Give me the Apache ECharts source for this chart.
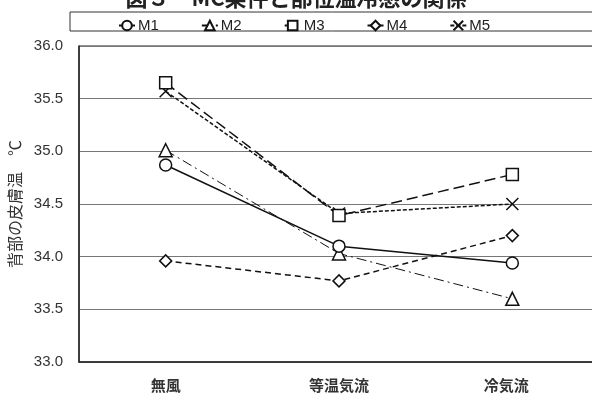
<!DOCTYPE html>
<html><head><meta charset="utf-8">
<script src="https://cdn.jsdelivr.net/npm/echarts@6/dist/echarts.min.js"></script>
<style>html,body{margin:0;padding:0;background:#fff}#c{width:592px;height:394px}</style>
</head><body><div id="c"></div>
<script>
const categories = ['無風', '等温気流', '冷気流'];
const seriesNames = ['M1', 'M2', 'M3', 'M4', 'M5'];
const M1 = [34.87, 34.10, 33.94];
const M2 = [35.01, 34.03, 33.60];
const M3 = [35.65, 34.39, 34.78];
const M4 = [33.96, 33.77, 34.20];
const M5 = [35.57, 34.41, 34.50];
const yTicks = [33.0, 33.5, 34.0, 34.5, 35.0, 35.5, 36.0];

const xMark = 'path://M0,0L10,10M10,0L0,10';
const styles = [
  {symbol: 'circle', size: 12, type: 'solid', width: 1.5},
  {symbol: 'triangle', size: 13, type: [10, 4, 2, 4], width: 1},
  {symbol: 'rect', size: 12, type: [11, 5], width: 1.5},
  {symbol: 'diamond', size: 12, type: [6, 4], width: 1.5},
  {symbol: xMark, size: 12, type: [4, 2], width: 1.5}
];
const dataSets = [M1, M2, M3, M4, M5];
const catItems = categories.map((c, i) =>
  i === 2 ? {value: c, textStyle: {padding: [0, 12, 0, 0]}} : c);

const chart = echarts.init(document.getElementById('c'), null, {renderer: 'canvas'});
chart.setOption({
  animation: false,
  backgroundColor: '#fff',
  title: {
    text: '図３　MC条件と部位温冷感の関係',
    left: 'center', top: -18,
    textStyle: {fontFamily: 'Noto Sans CJK JP', fontSize: 22, fontWeight: 'bold', color: '#222'}
  },
  graphic: [{
    type: 'rect', shape: {x: 70, y: 12, width: 530, height: 19},
    style: {fill: 'none', stroke: '#333', lineWidth: 1}
  }],
  legend: {
    left: 113, top: 13, itemWidth: 16, itemHeight: 12, itemGap: 42,
    textStyle: {fontFamily: 'Liberation Sans', fontSize: 15, color: '#222', padding: [0, 0, 0, -2]},
    data: seriesNames
  },
  grid: {left: 79, width: 520, top: 46, height: 316, containLabel: false,
         outerBoundsMode: 'none',
         show: true, borderColor: '#222', borderWidth: 1},
  xAxis: {
    type: 'category', data: catItems, boundaryGap: true,
    axisLine: {lineStyle: {color: '#222', width: 1.5}},
    axisTick: {show: false},
    axisLabel: {margin: 16, fontFamily: 'Noto Sans CJK JP', fontSize: 15, fontWeight: 'bold', color: '#333'}
  },
  yAxis: {
    type: 'value', min: 33.0, max: 36.0, interval: 0.5,
    name: '背部の皮膚温　℃', nameLocation: 'middle', nameGap: 50,
    nameTextStyle: {fontFamily: 'Noto Sans CJK JP', fontSize: 16, color: '#333'},
    axisLine: {show: true, lineStyle: {color: '#222', width: 1.5}},
    axisTick: {show: false},
    axisLabel: {margin: 16, fontFamily: 'Liberation Sans', fontSize: 15, color: '#333',
      formatter: v => yTicks.includes(+v.toFixed(1)) ? v.toFixed(1) : ''},
    splitLine: {lineStyle: {color: '#777', width: 1.2}}
  },
  series: dataSets.map((d, i) => ({
    name: seriesNames[i], type: 'line', data: d,
    symbol: styles[i].symbol, symbolSize: styles[i].size,
    lineStyle: {color: '#111', width: styles[i].width, type: styles[i].type},
    itemStyle: {color: '#fff', borderColor: '#111', borderWidth: 1.5},
    z: 5 - i
  }))
});
</script></body></html>
